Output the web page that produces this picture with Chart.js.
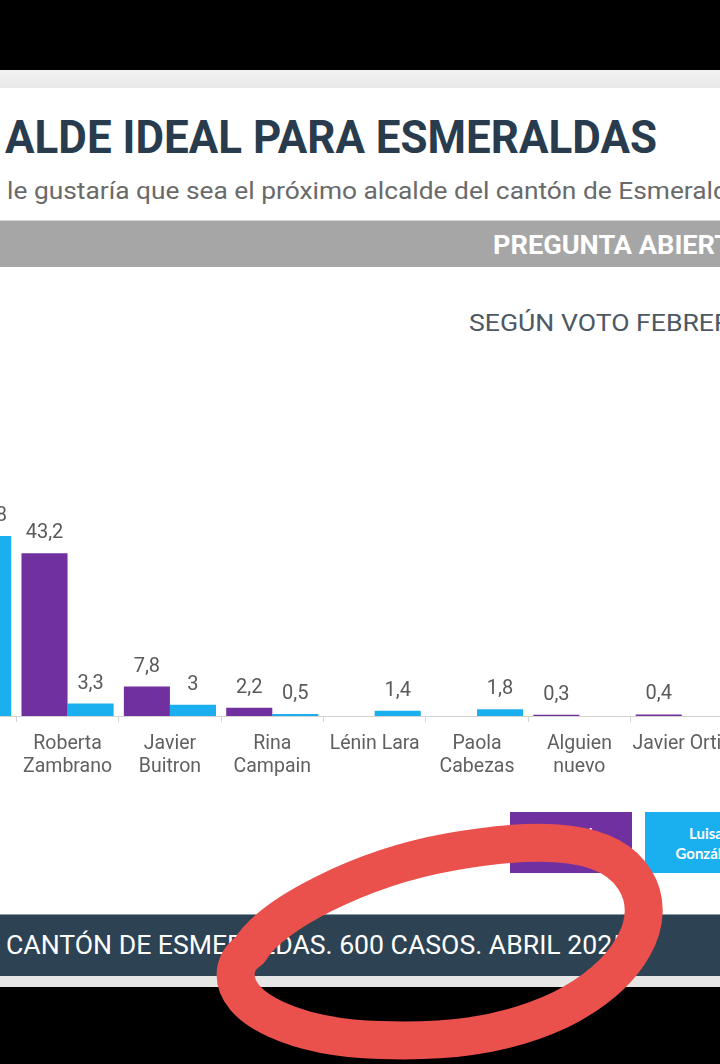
<!DOCTYPE html>
<html>
<head>
<meta charset="utf-8">
<script src="https://cdn.jsdelivr.net/npm/chart.js@4.4.1/dist/chart.umd.min.js"></script>
<style>
  html, body { margin:0; padding:0; }
  body { width:720px; height:1064px; overflow:hidden; position:relative; background:#ffffff; font-family: Roboto, sans-serif; }
  .abs { position:absolute; white-space:nowrap; transform-origin:left top; line-height:1; }
  #topBlack { left:0; top:0; width:720px; height:70px; background:#000; }
  #topStrip { left:0; top:70px; width:720px; height:18px; background:linear-gradient(#f2f2f2,#e9e9e9); }
  #title { left:5px; top:114px; font-size:46px; font-weight:700; color:#283c4e; }
  #subtitle { left:7px; top:179px; font-size:24px; color:#6a6a6a; }
  #band { left:0; top:220px; width:720px; height:47px; background:#a6a6a6; border-top:1px solid #d6d6d6; box-sizing:border-box; }
  #pregunta { left:493px; top:233px; font-size:25px; font-weight:700; color:#ffffff; }
  #segun { left:469px; top:312px; font-size:23px; color:#4c5864; }
  #chartBox { position:absolute; left:-86px; top:470px; width:828px; height:316px; }
  .leg { position:absolute; top:812px; width:122px; height:61px; color:#fff; font-family:Lato, 'Open Sans', sans-serif; font-weight:700; font-size:15px; line-height:20px; display:flex; align-items:center; justify-content:center; text-align:center; }
  #legN { left:510px; background:#7030a0; }
  #legG { left:645px; background:#1ab0ef; }
  #footer { left:0; top:914px; width:720px; height:62px; background:#2d4354; border-top:1px solid #8a9aa6; box-sizing:border-box; }
  #footText { left:6px; top:933px; font-size:25px; color:#ffffff; }
  #footStrip { left:0; top:976px; width:720px; height:11px; background:#e6e6e6; }
  #botBlack { left:0; top:987px; width:720px; height:77px; background:#000; }
  #marker { position:absolute; left:0; top:0; width:720px; height:1064px; pointer-events:none; }
</style>
</head>
<body>
<div class="abs" id="topBlack"></div>
<div class="abs" id="topStrip"></div>
<div class="abs" id="title">ALDE IDEAL PARA ESMERALDAS</div>
<div class="abs" id="subtitle">le gustaría que sea el próximo alcalde del cantón de Esmeraldas?</div>
<div class="abs" id="band"></div>
<div class="abs" id="pregunta">PREGUNTA ABIERTA</div>
<div class="abs" id="segun">SEGÚN VOTO FEBRERO</div>
<div id="chartBox"><canvas id="c" width="828" height="316"></canvas></div>
<div class="leg" id="legN">Daniel<br>Noboa</div>
<div class="leg" id="legG">Luisa<br>González</div>
<div class="abs" id="footer"></div>
<div class="abs" id="footText">CANTÓN DE ESMERALDAS. 600 CASOS. ABRIL 2025</div>
<div class="abs" id="footStrip"></div>
<div class="abs" id="botBlack"></div>
<svg id="marker" viewBox="0 0 720 1064">
  <path d="M250 950 C270 915 360 868 450 852 C540 836 610 838 635 880 C660 920 630 975 560 1010 C500 1038 440 1042 380 1040 C300 1038 230 1010 236 970 C238 960 243 955 250 950 Z"
        fill="none" stroke="#ea514d" stroke-width="38" stroke-linejoin="round"/>
</svg>
<script>
// ---- chart data ----
const categories = [
  '',
  ['Roberta', 'Zambrano'],
  ['Javier', 'Buitron'],
  ['Rina', 'Campain'],
  'Lénin Lara',
  ['Paola', 'Cabezas'],
  ['Alguien', 'nuevo'],
  'Javier Ortiz'
];
const seriesNames = ['Daniel Noboa', 'Luisa González'];
const noboaValues = [null, 43.2, 7.8, 2.2, 0, 0, 0.3, 0.4];
const gonzalezValues = [47.8, 3.3, 3, 0.5, 1.4, 1.8, 0, 0];
const yMax = 60;

function fit(id, sub, target) {
  const el = document.getElementById(id);
  const cs = getComputedStyle(el);
  const ctx = document.createElement('canvas').getContext('2d');
  ctx.font = cs.fontWeight + ' ' + cs.fontSize + ' ' + cs.fontFamily;
  const w = ctx.measureText(sub).width;
  el.style.transform = 'scaleX(' + (target / w) + ')';
}
fit('title', 'ALDE IDEAL PARA ESMERALDAS', 652);
fit('subtitle', 'le gustaría que sea el próximo alcalde del cantón de Esmeral', 706);
fit('pregunta', 'PREGUNTA ABIER', 222);
fit('segun', 'SEGÚN VOTO FEBRE', 245);
fit('footText', 'CANTÓN DE ESM', 206);

const valueLabels = {
  id: 'valueLabels',
  afterDatasetsDraw(chart) {
    const ctx = chart.ctx;
    ctx.save();
    ctx.font = '20px Roboto';
    ctx.fillStyle = '#5a5a5a';
    ctx.textAlign = 'center';
    ctx.textBaseline = 'alphabetic';
    chart.data.datasets.forEach((ds, i) => {
      const meta = chart.getDatasetMeta(i);
      meta.data.forEach((el, j) => {
        const v = ds.data[j];
        if (v === null || v === 0) return;
        ctx.fillText(String(v).replace('.', ','), el.x, el.y - 15);
      });
    });
    ctx.restore();
  }
};

Chart.defaults.font.family = 'Roboto';
new Chart(document.getElementById('c'), {
  type: 'bar',
  data: {
    labels: categories,
    datasets: [
      { label: seriesNames[0], data: noboaValues, backgroundColor: '#7030a0', barPercentage: 1, categoryPercentage: 0.9 },
      { label: seriesNames[1], data: gonzalezValues, backgroundColor: '#1ab0ef', barPercentage: 1, categoryPercentage: 0.9 }
    ]
  },
  options: {
    responsive: false,
    maintainAspectRatio: false,
    animation: false,
    layout: { padding: { top: 20, left: 0, right: 0, bottom: 0 } },
    plugins: { legend: { display: false }, tooltip: { enabled: false } },
    scales: {
      x: {
        grid: { display: true, drawOnChartArea: false, drawTicks: true, tickLength: 6, color: '#d4d4d4', offset: true },
        border: { display: true, color: '#d4d4d4', width: 1 },
        ticks: { color: '#606060', font: { size: 19.5, lineHeight: 1.18 }, padding: 11, maxRotation: 0, autoSkip: false },
        afterFit(scale) { scale.height = 70; }
      },
      y: { display: false, min: 0, max: yMax }
    }
  },
  plugins: [valueLabels]
});
</script>
</body>
</html>
